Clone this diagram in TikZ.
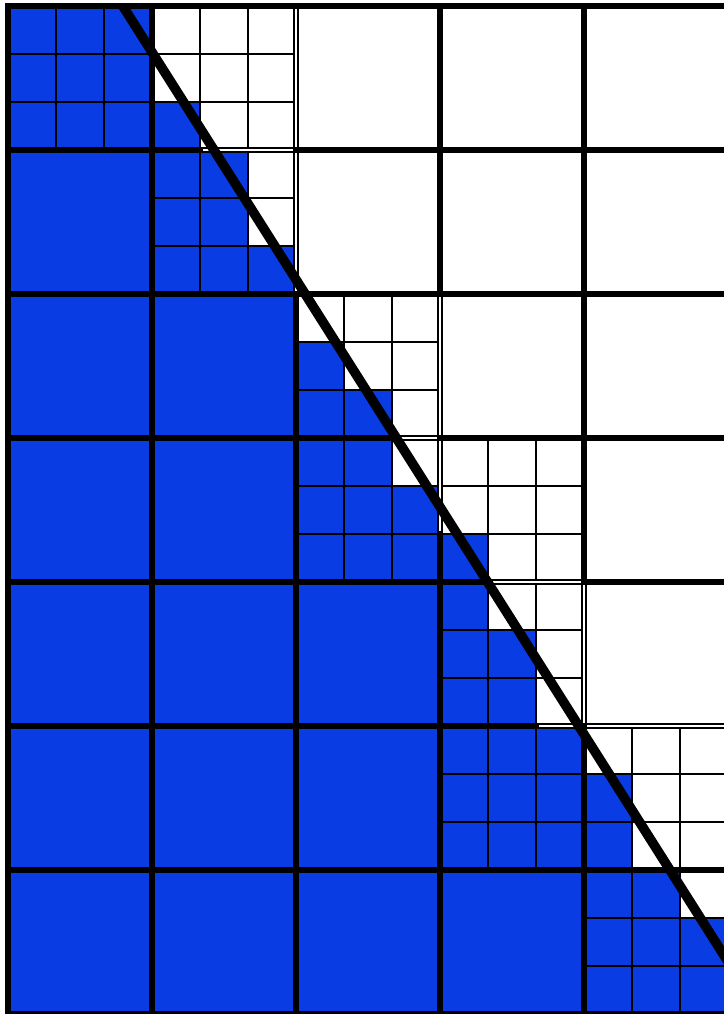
\documentclass[tikz,border=0pt]{standalone}
\usepackage{tikz}
\definecolor{cellblue}{RGB}{10,60,228}
\tikzset{
  thickgrid/.style={line width=1pt, black, line cap=rect},
  thingrid/.style={line width=0.4pt, black},
  dbl/.style={line width=0.3pt, black, double=white, double distance=0.4pt},
  diag/.style={line width=1.9pt, black, line cap=butt},
}
% blue subcells of a subdivided cell: #1 col, #2 row from top, #3 nine flags (1=blue) row-major from top
\newcommand{\bluesubs}[3]{%
  \foreach \f [count=\k from 0] in {#3} {
    \pgfmathtruncatemacro{\sr}{int(\k/3)}
    \pgfmathtruncatemacro{\sc}{mod(\k,3)}
    \pgfmathsetmacro{\xa}{#1+\sc/3}
    \pgfmathsetmacro{\ya}{7-#2-(\sr+1)/3}
    \ifnum\f=1
      \fill[cellblue] (\xa,\ya) rectangle ++(1/3,1/3);
    \fi
  }%
}
\newcommand{\sublines}[2]{%
  \draw[thingrid] (#1,7-#2-1) grid[step=1/3] (#1+1,7-#2);
}
\begin{document}
\begin{tikzpicture}
\useasboundingbox (-0.0556,0) rectangle (4.9722,7.0417);
\clip (-0.0556,0) rectangle (4.9722,7.0417);
% full blue cells (col,row-from-top)
\foreach \c/\r in {0/1,0/2,0/3,0/4,0/5,0/6, 1/2,1/3,1/4,1/5,1/6, 2/4,2/5,2/6, 3/6}
  \fill[cellblue] (\c,6-\r) rectangle ++(1,1);
% blue subcells
\bluesubs{0}{0}{1,1,1,1,1,1,1,1,1}
\bluesubs{1}{0}{0,0,0,0,0,0,1,0,0}
\bluesubs{1}{1}{1,1,0,1,1,0,1,1,1}
\bluesubs{2}{2}{0,0,0,1,0,0,1,1,0}
\bluesubs{2}{3}{1,1,0,1,1,1,1,1,1}
\bluesubs{3}{3}{0,0,0,0,0,0,1,0,0}
\bluesubs{3}{4}{1,0,0,1,1,0,1,1,0}
\bluesubs{3}{5}{1,1,1,1,1,1,1,1,1}
\bluesubs{4}{5}{0,0,0,1,0,0,1,0,0}
\bluesubs{4}{6}{1,1,0,1,1,1,1,1,1}
% thin sub grids
\sublines{0}{0}
\sublines{1}{0}
\sublines{1}{1}
\sublines{2}{2}
\sublines{2}{3}
\sublines{3}{3}
\sublines{3}{4}
\sublines{3}{5}
\sublines{4}{5}
\sublines{4}{6}
% double thin segments of the main grid
\draw[dbl] (2,5) -- (2,7);
\draw[dbl] (3,10/3) -- (3,5);
\draw[dbl] (4,2) -- (4,3);
\draw[dbl] (4/3,6) -- (2,6);
\draw[dbl] (8/3,4) -- (3,4);
\draw[dbl] (10/3,3) -- (4,3);
\draw[dbl] (11/3,2) -- (5.2,2);
% thick main grid segments
\draw[thickgrid] (0,0) -- (0,7);
\draw[thickgrid] (1,0) -- (1,7);
\draw[thickgrid] (2,0) -- (2,5);
\draw[thickgrid] (3,0) -- (3,10/3);
\draw[thickgrid] (3,5) -- (3,7);
\draw[thickgrid] (4,0) -- (4,2);
\draw[thickgrid] (4,3) -- (4,7);
\draw[thickgrid] (0,7) -- (5.2,7);
\draw[thickgrid] (0,6) -- (4/3,6);
\draw[thickgrid] (2,6) -- (5.2,6);
\draw[thickgrid] (0,5) -- (5.2,5);
\draw[thickgrid] (0,4) -- (8/3,4);
\draw[thickgrid] (3,4) -- (5.2,4);
\draw[thickgrid] (0,3) -- (10/3,3);
\draw[thickgrid] (4,3) -- (5.2,3);
\draw[thickgrid] (0,2) -- (11/3,2);
\draw[thickgrid] (0,1) -- (5.2,1);
\draw[thickgrid] (0,0) -- (5.2,0);
% diagonal
\coordinate (dA) at (0.797,7);
\coordinate (dB) at (5.230,0);
\draw[diag] (dA) -- (dB);
\end{tikzpicture}
\end{document}
